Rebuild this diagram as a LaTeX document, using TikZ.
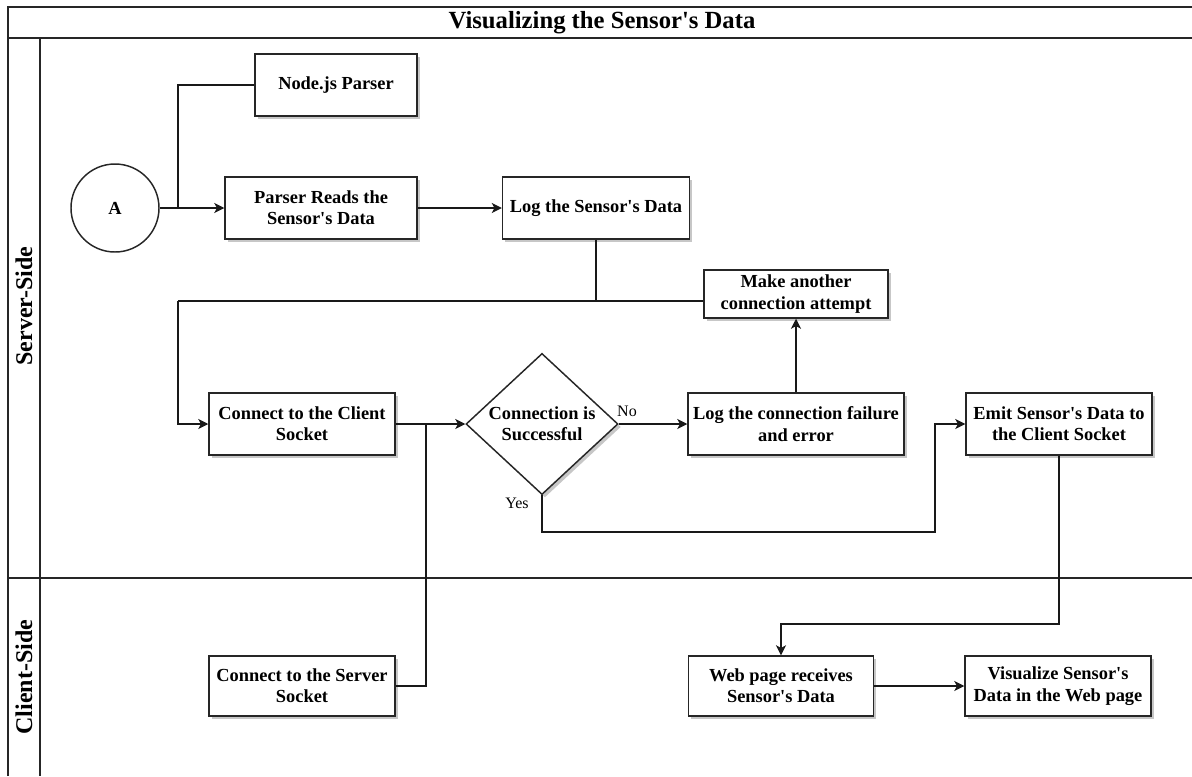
\documentclass[tikz,border=0pt]{standalone}
\usepackage{fontspec}
\setmainfont{Liberation Serif}
\usetikzlibrary{arrows.meta,shapes.geometric,shadows}

\begin{document}
\begin{tikzpicture}[
  x=0.75pt, y=-0.75pt,
  frameline/.style={line width=1.1pt, black!85},
  boxshadow/.style={drop shadow={shadow xshift=2.2pt, shadow yshift=-2.2pt, fill=black!40, opacity=0.55}},
  stepbox/.style={draw=black!85, line width=1.1pt, fill=white, boxshadow, align=center,
    inner sep=2pt, font=\bfseries\fontsize{13.8}{16}\selectfont},
  decision/.style={diamond, draw=black!85, line width=1.1pt, fill=white, boxshadow, align=center,
    inner sep=0pt, minimum width=114pt, minimum height=97.5pt,
    font=\bfseries\fontsize{13.8}{16}\selectfont},
  connector/.style={line width=0.9pt, black!90},
  flow/.style={connector, -{Stealth[length=7.5pt, width=7.5pt, inset=2pt]}},
  lanelabel/.style={rotate=90, font=\bfseries\fontsize{18}{20}\selectfont},
  edgelabel/.style={font=\fontsize{12}{14}\selectfont, inner sep=0pt}
]
\useasboundingbox (0,0) rectangle (1192,776);

% pool frame, title band and swimlanes
\draw[frameline] (8,776) -- (8,7) -- (1192,7);
\draw[frameline] (8,38) -- (1192,38);
\draw[frameline] (40,38) -- (40,776);
\draw[frameline] (8,578) -- (1192,578);
\node[font=\bfseries\fontsize{18.5}{20}\selectfont] (title) at (602,22.5) {Visualizing the Sensor\textquotesingle s Data};
\node[lanelabel] (serverlane) at (24,306) {Server-Side};
\node[lanelabel] (clientlane) at (24,677) {Client-Side};

% server-side steps
\node[circle, draw=black!85, line width=1.1pt, minimum size=66pt, inner sep=0pt,
      font=\bfseries\fontsize{13.8}{16}\selectfont] (A) at (115,208) {A};
\node[stepbox, minimum width=121.5pt, minimum height=46.5pt] (nodejs) at (336,85) {Node.js Parser};
\node[stepbox, minimum width=144pt, minimum height=46.5pt] (reads) at (321,208) {Parser Reads the\\Sensor\textquotesingle s Data};
\node[stepbox, minimum width=140.25pt, minimum height=46.5pt] (logdata) at (596,208) {Log the Sensor\textquotesingle s Data};
\node[stepbox, minimum width=138pt, minimum height=36pt] (another) at (796,294) {Make another\\connection attempt};
\node[stepbox, minimum width=139.5pt, minimum height=46.5pt] (connect) at (302,424) {Connect to the Client\\Socket};
\node[decision] (success) at (542,424) {Connection is\\Successful};
\node[stepbox, minimum width=162pt, minimum height=46.5pt] (failure) at (796,424) {Log the connection failure\\and error};
\node[stepbox, minimum width=139.5pt, minimum height=46.5pt] (emit) at (1059,424) {Emit Sensor\textquotesingle s Data to\\the Client Socket};

% client-side steps
\node[stepbox, minimum width=139.5pt, minimum height=45pt] (server) at (302,686) {Connect to the Server\\Socket};
\node[stepbox, minimum width=138.75pt, minimum height=45pt] (webpage) at (781,686) {Web page receives\\Sensor\textquotesingle s Data};
\node[stepbox, minimum width=139.5pt, minimum height=45pt] (visual) at (1058,686) {Visualize Sensor\textquotesingle s\\Data in the Web page};

% junction points of the connectors
\coordinate (split) at (178,208);
\coordinate (merge) at (596,301);
\coordinate (loopback) at (178,301);
\coordinate (join) at (426,424);
\coordinate (yesbend) at (935,532);
\coordinate (emitbend) at (781,624);

% connectors
\draw[flow] (A) -- (reads);
\draw[connector] (split) |- (nodejs.west);
\draw[flow] (reads) -- (logdata);
\draw[connector] (logdata.south) -- (merge) -- (loopback);
\draw[flow] (loopback) |- (connect.west);
\draw[connector] (another.west |- merge) -- (merge);
\draw[flow] (failure) -- (another);
\draw[flow] (connect) -- (success);
\draw[flow] (success.east) -- (failure.west);
\draw[flow] (success.south) |- (yesbend) |- (emit.west);
\draw[connector] (server.east) -| (join);
\draw[flow] (emit.south) |- (emitbend) -- (webpage.north);
\draw[flow] (webpage) -- (visual);

% branch labels
\node[edgelabel] (nolabel) at (627,411) {No};
\node[edgelabel] (yeslabel) at (517,503) {Yes};
\end{tikzpicture}
\end{document}
